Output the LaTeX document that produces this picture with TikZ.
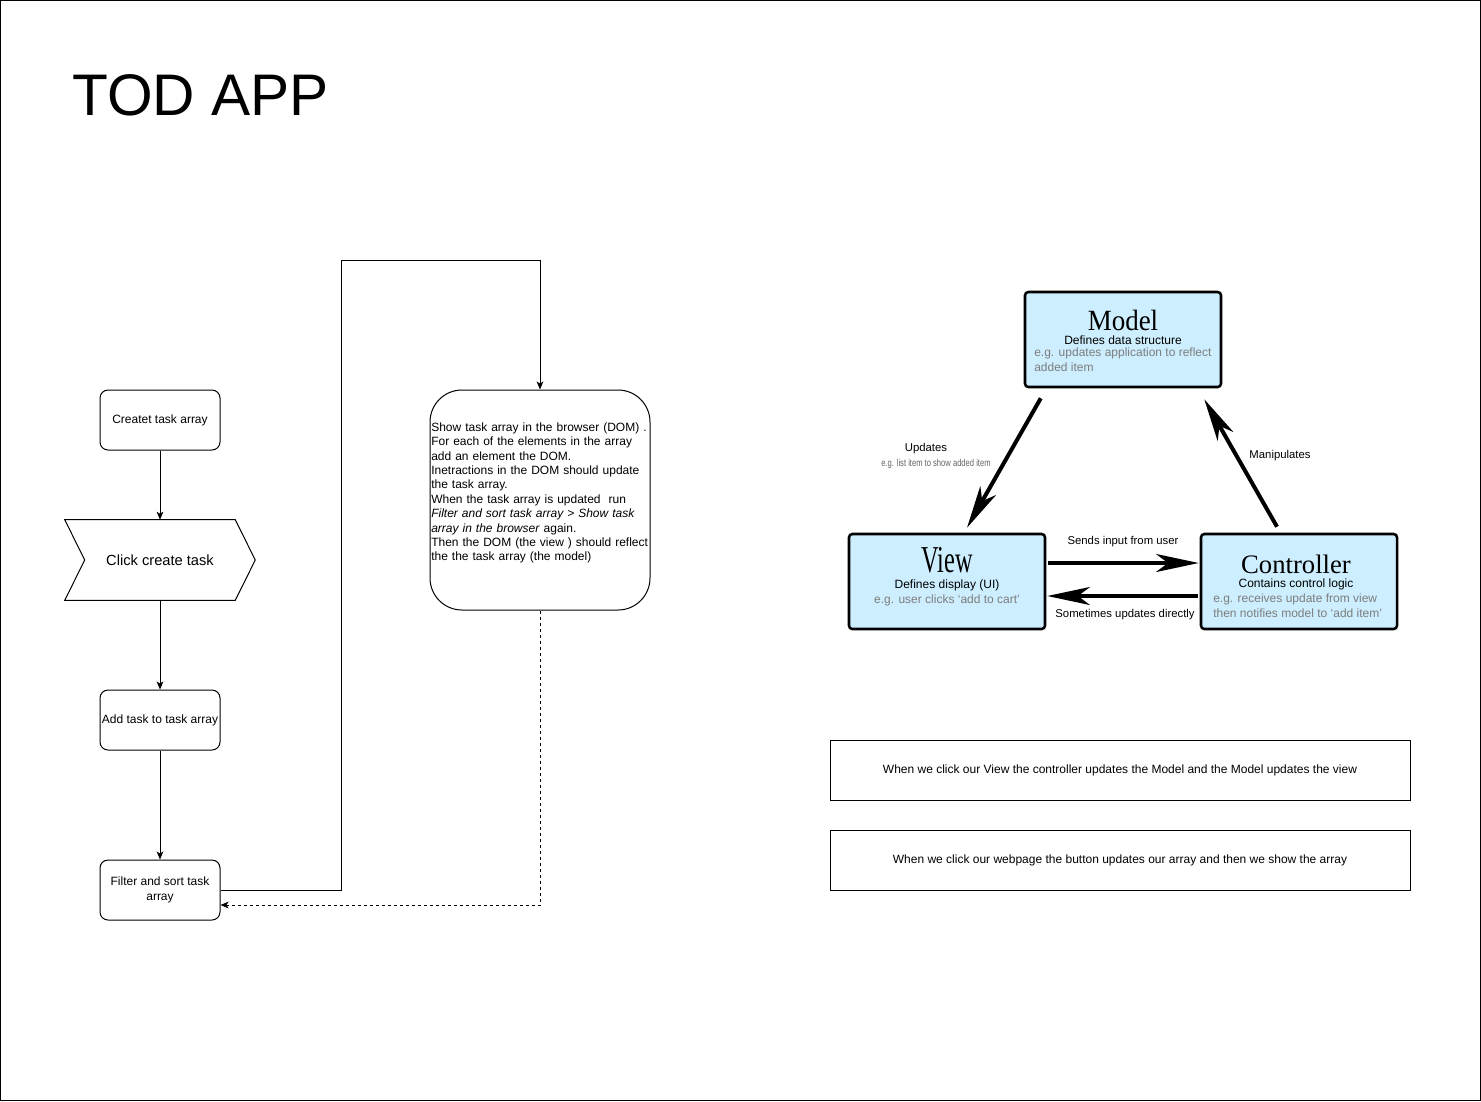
\documentclass[tikz,border=0pt]{standalone}
\usepackage{fontspec}
\usepackage{graphicx}
\setmainfont{Liberation Sans}
\newfontfamily\serifmvc{Liberation Serif}
\usetikzlibrary{arrows.meta,calc}
\definecolor{mvcblue}{RGB}{204,238,254}
\definecolor{mvcgray}{RGB}{125,125,125}
\begin{document}
\begin{tikzpicture}[x=0.75pt,y=-0.75pt,
  flowbox/.style={draw, line width=0.75pt, rounded corners=6pt, minimum width=90pt, minimum height=45pt, align=center, font=\fontsize{9}{10.8}\selectfont, inner sep=0.5pt},
  flowarrow/.style={draw, line width=0.75pt, -{Stealth[length=6pt,width=5pt,inset=1.5pt]}},
  mvcbox/.style={draw, line width=1.9pt, fill=mvcblue, rounded corners=2.5pt, minimum width=147pt, minimum height=71.25pt, inner sep=0pt},
  mvcarrow/.style={line width=3pt, -{Stealth[length=32pt,width=13.5pt,inset=9pt]}},
  mvctitle/.style={inner sep=0pt, anchor=base},
  smalltxt/.style={font=\fontsize{9}{11.25}\selectfont, inner sep=0pt},
  graytxt/.style={font=\fontsize{9}{11.25}\selectfont, text=mvcgray, inner sep=0pt, align=left},
  lbl/.style={font=\fontsize{8.5}{10}\selectfont, inner sep=0pt},
  notebox/.style={draw, line width=0.75pt, minimum width=435pt, minimum height=45pt, font=\fontsize{9}{10.8}\selectfont, inner sep=0pt}
]
\useasboundingbox (0,0) rectangle (1481,1101);
\draw[line width=0.75pt] (0.5,0.5) rectangle (1480.5,1100.5);

% title
\node[anchor=west, inner sep=0pt, font=\fontsize{44}{50}\selectfont] (title) at (72,95) {TOD APP};

% left flowchart
\node[flowbox] (create) at (160,420) {Createt task array};
\node[minimum width=142.5pt, minimum height=60pt, inner sep=0pt, font=\fontsize{11}{13}\selectfont] (click) at (160,560) {Click create task};
\draw[line width=0.75pt] (click.north west) -- ($(click.north east)+(-20,0)$) -- (click.east) -- ($(click.south east)+(-20,0)$) -- (click.south west) -- ($(click.west)+(20,0)$) -- cycle;
\node[flowbox] (add) at (160,720) {Add task to task array};
\node[flowbox] (filter) at (160,890) {Filter and sort task\\array};

\node[draw, line width=0.75pt, rounded corners=24pt, minimum width=165pt, minimum height=165pt, inner sep=0pt] (show) at (540,500) {};
\node[anchor=west, text width=163.5pt, align=left, inner sep=0pt, font=\fontsize{9}{10.8}\selectfont] (showtext) at (431,493) {Show task array in the browser (DOM) .\\
For each of the elements in the array\\
add an element the DOM.\\
Inetractions in the DOM should update\\
the task array.\\
When the task array is updated~ run\\
\textit{Filter and sort task array > Show task}\\
\textit{array in the browser} again.\\
Then the DOM (the view ) should reflect\\
the the task array (the model)};

\coordinate (loopTop) at (341,260);
\draw[flowarrow] (create) -- (click.north);
\draw[flowarrow] (click.south) -- (add);
\draw[flowarrow] (add) -- (filter);
\draw[flowarrow] (filter.east) -| (loopTop) -| (show.north);
\draw[flowarrow, dash pattern=on 2.25pt off 2.25pt] (show.south) |- ($(filter.east)+(0,15)$);

% MVC
\node[mvcbox] (model) at (1123,339.5) {};
\node[mvcbox] (view) at (947,581.5) {};
\node[mvcbox] (ctrl) at (1299,581.5) {};

\node[mvctitle, font=\serifmvc\fontsize{22}{26}\selectfont] (modelT) at (1123,330) {\scalebox{0.92}[1]{Model}};
\node[smalltxt] (modelD) at (1123,340) {Defines data structure};
\node[graytxt, anchor=west] (modelE) at (1034,360) {e.g. updates application to reflect\\added item};

\node[mvctitle, font=\serifmvc\fontsize{28.5}{32}\selectfont] (viewT) at (947,572) {\scalebox{0.64}[1]{View}};
\node[smalltxt] (viewD) at (947,585.5) {Defines display (UI)};
\node[graytxt] (viewE) at (947,600.5) {e.g. user clicks ‘add to cart’};

\node[mvctitle, font=\serifmvc\fontsize{20}{24}\selectfont] (ctrlT) at (1296,573) {Controller};
\node[smalltxt] (ctrlD) at (1296,584.5) {Contains control logic};
\node[graytxt, anchor=west] (ctrlE) at (1213,606) {e.g. receives update from view\\then notifies model to ‘add item’};

\draw[mvcarrow] ($(model.south west)+(17,10)$) -- ($(view.north)+(20,-5)$);
\draw[mvcarrow] ($(ctrl.north)+(-22,-6)$) -- ($(model.south east)+(-18,11)$);
\draw[mvcarrow] ($(view.east)+(2,-18.5)$) -- ($(ctrl.west)+(-1,-18.5)$);
\draw[mvcarrow] ($(ctrl.west)+(-2,14.5)$) -- ($(view.east)+(1,14.5)$);

\node[lbl] (updL) at (926,449) {Updates};
\node[inner sep=0pt, font=\fontsize{7.5}{9}\selectfont, text=mvcgray!80!black] (updE) at (936,464) {\scalebox{0.76}[1]{e.g. list item to show added item}};
\node[lbl] (manL) at (1280,456) {Manipulates};
\node[lbl] (sendL) at (1123,542) {Sends input from user};
\node[lbl] (someL) at (1125,615) {Sometimes updates directly};

% notes
\node[notebox] (note1) at (1120,770) {When we click our View the controller updates the Model and the Model updates the view};
\node[notebox] (note2) at (1120,860) {When we click our webpage the button updates our array and then we show the array};
\end{tikzpicture}
\end{document}
